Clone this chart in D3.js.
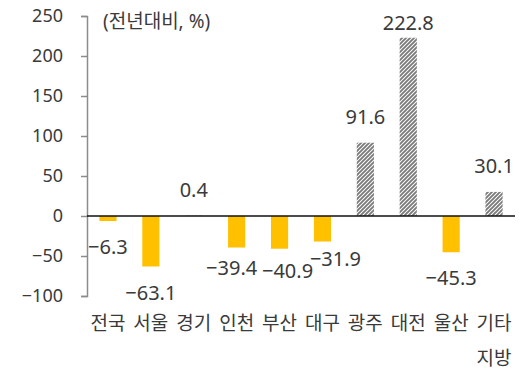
<!DOCTYPE html>
<html>
<head>
<meta charset="utf-8">
<script src="https://cdn.jsdelivr.net/npm/d3@7"></script>
<style>
  html, body { margin: 0; padding: 0; background: #fff; }
  svg { display: block; }
  text { font-family: "Noto Sans", "Noto Sans CJK KR", sans-serif; fill: #3a3a3a; }
</style>
</head>
<body>
<svg id="chart" width="530" height="383"></svg>
<script>
// ---- data ----
const categories = ["전국", "서울", "경기", "인천", "부산", "대구", "광주", "대전", "울산", "기타 지방"];
const values = [-6.3, -63.1, 0.4, -39.4, -40.9, -31.9, 91.6, 222.8, -45.3, 30.1];
const yTicks = [250, 200, 150, 100, 50, 0, -50, -100];
const unitLabel = "(전년대비, %)";
// manual label nudges (as placed in the original)
const labelNudgeX = [0, 0, 0, -5, 8, 13, 0, 0, 0, 0];
const labelNudgeY = [0, 0, 0, -6, -4, -9, 0, 11, 0, 0];

// ---- layout ----
const svg = d3.select("#chart");
const x = d3.scaleBand().domain(categories).range([86.5, 515.5]).paddingInner(0.6).paddingOuter(0.3);
const y = d3.scaleLinear().domain([-100, 250]).range([296, 16]);

// hatch pattern
const defs = svg.append("defs");
const pat = defs.append("pattern")
  .attr("id", "hatch").attr("patternUnits", "userSpaceOnUse")
  .attr("width", 4).attr("height", 4);
pat.append("rect").attr("width", 4).attr("height", 4).attr("fill", "#fff");
pat.append("path")
  .attr("d", "M-1,1 l2,-2 M0,4 l4,-4 M3,5 l2,-2")
  .attr("stroke", "#7a7a7a").attr("stroke-width", 1.9);

// y axis
const yAxis = d3.axisLeft(y).tickValues(yTicks).tickSize(6).tickPadding(18)
  .tickFormat(d => d < 0 ? "\u2212" + Math.abs(d) : String(d));
const gy = svg.append("g").attr("transform", "translate(87,0)").call(yAxis);
gy.select(".domain").attr("stroke", "#8c8c8c").attr("stroke-width", 1.5);
gy.selectAll(".tick line").attr("stroke", "#8c8c8c").attr("stroke-width", 1.5);
gy.selectAll(".tick text").attr("font-size", 18).attr("fill", "#3a3a3a")
  .style("font-family", "'Noto Sans', 'Noto Sans CJK KR', sans-serif");

// bars
const bw = x.bandwidth();
svg.append("g").selectAll("rect").data(values).join("rect")
  .attr("x", (d, i) => x(categories[i]))
  .attr("width", bw)
  .attr("y", d => y(Math.max(0, d)))
  .attr("height", d => Math.abs(y(d) - y(0)))
  .attr("fill", d => d > 0 ? "url(#hatch)" : "#FFC000");

// zero line
svg.append("line")
  .attr("x1", 87).attr("x2", 515)
  .attr("y1", y(0)).attr("y2", y(0))
  .attr("stroke", "#111").attr("stroke-width", 1.6);

// value labels
svg.append("g").selectAll("text").data(values).join("text")
  .attr("x", (d, i) => x(categories[i]) + bw / 2 + labelNudgeX[i])
  .attr("y", (d, i) => y(d) + (d >= 0 ? -26 : 26) + labelNudgeY[i])
  .attr("dy", "0.36em")
  .attr("text-anchor", "middle")
  .attr("font-size", 20)
  .text(d => d < 0 ? "\u2212" + Math.abs(d).toFixed(1) : d.toFixed(1));

// category labels
const cat = svg.append("g").selectAll("text").data(categories).join("text")
  .attr("x", d => x(d) + bw / 2)
  .attr("y", 330)
  .attr("text-anchor", "middle")
  .attr("font-size", 19);
cat.each(function(d) {
  const parts = d.split(" ");
  const t = d3.select(this);
  parts.forEach((p, k) => {
    t.append("tspan").attr("x", t.attr("x")).attr("dy", k === 0 ? 0 : 35).text(p);
  });
});

// unit label
svg.append("text").attr("x", 103).attr("y", 28).attr("font-size", 19).text(unitLabel);
</script>
</body>
</html>
